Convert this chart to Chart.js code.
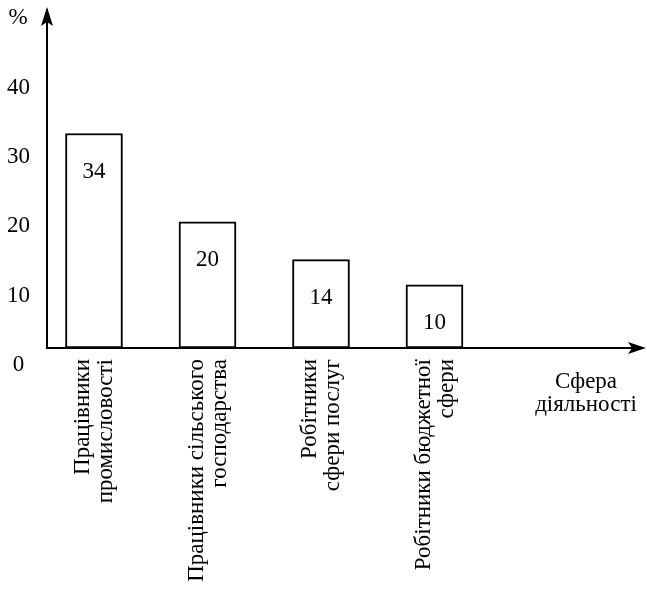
<!DOCTYPE html>
<html lang="uk">
<head>
<meta charset="utf-8">
<title>Розподіл за сферою діяльності</title>
<script src="https://cdn.jsdelivr.net/npm/chart.js@4/dist/chart.umd.min.js"></script>
<style>
  html, body { margin: 0; padding: 0; background: #ffffff; }
  #wrap { width: 647px; height: 596px; position: relative; }
</style>
</head>
<body>
<div id="wrap"><canvas id="chart" width="647" height="596"></canvas></div>
<script>
// Categories (each split into the lines shown under its bar)
const categoryLines = [
  ['Працівники', 'промисловості'],
  ['Працівники сільського', 'господарства'],
  ['Робітники', 'сфери послуг'],
  ['Робітники бюджетної', 'сфери']
];
// Share of each group, %
const shares = [34, 20, 14, 10];
// Values printed on the vertical axis
const yTickValues = [0, 10, 20, 30, 40];
const yUnit = '%';
const xTitleLines = ['Сфера', 'діяльності'];

const FONT = "'Liberation Serif', 'Times New Roman', serif";
const FONT_SIZE = 23;

// Arrowheads, axis captions and the numbers inside the bars
const decorations = {
  id: 'decorations',
  afterDraw(chart) {
    const ctx = chart.ctx;
    const area = chart.chartArea;
    const axisX = area.left;
    const axisY = area.bottom;
    ctx.save();
    ctx.fillStyle = '#000';
    ctx.strokeStyle = '#000';
    ctx.lineWidth = 2;

    // extend the horizontal axis up to its arrow tip
    const tipX = 646;
    ctx.beginPath();
    ctx.moveTo(area.right - 1, axisY);
    ctx.lineTo(tipX - 8, axisY);
    ctx.stroke();
    // horizontal arrowhead
    ctx.beginPath();
    ctx.moveTo(tipX, axisY);
    ctx.lineTo(tipX - 18, axisY - 6);
    ctx.lineTo(tipX - 14, axisY);
    ctx.lineTo(tipX - 18, axisY + 6);
    ctx.closePath();
    ctx.fill();

    // extend the vertical axis up to its arrow tip
    const tipY = 7;
    ctx.beginPath();
    ctx.moveTo(axisX, area.top + 1);
    ctx.lineTo(axisX, tipY + 8);
    ctx.stroke();
    // vertical arrowhead
    ctx.beginPath();
    ctx.moveTo(axisX, tipY);
    ctx.lineTo(axisX - 6, tipY + 19);
    ctx.lineTo(axisX, tipY + 15);
    ctx.lineTo(axisX + 6, tipY + 19);
    ctx.closePath();
    ctx.fill();

    ctx.font = FONT_SIZE + 'px ' + FONT;
    ctx.textAlign = 'center';
    ctx.textBaseline = 'middle';
    // unit above the vertical axis
    ctx.fillText(yUnit, 18, 18);
    // caption of the horizontal axis
    ctx.fillText(xTitleLines[0], 586, 382);
    ctx.fillText(xTitleLines[1], 586, 405);

    // values inside the bars
    const meta = chart.getDatasetMeta(0);
    meta.data.forEach((bar, i) => {
      ctx.fillText(String(shares[i]), bar.x, bar.y + 38);
    });
    ctx.restore();
  }
};

function zeroPadding(scale) {
  scale.paddingTop = 0;
  scale.paddingBottom = 0;
  scale.paddingLeft = 0;
  scale.paddingRight = 0;
}

function build() {
  new Chart(document.getElementById('chart'), {
    type: 'bar',
    data: {
      datasets: [{
        data: shares.map((v, i) => ({ x: i + 1, y: v })),
        yAxisID: 'yb',
        backgroundColor: '#ffffff',
        borderColor: '#000000',
        borderWidth: 2,
        borderSkipped: false,
        barThickness: 57
      }]
    },
    options: {
      responsive: false,
      animation: false,
      devicePixelRatio: 1,
      layout: { padding: { top: 10, right: 9, left: 0, bottom: 0 } },
      plugins: { legend: { display: false }, tooltip: { enabled: false } },
      scales: {
        x: {
          type: 'linear',
          position: 'bottom',
          offset: false,
          min: 0.586,
          max: 5.793,
          grid: { display: false, drawTicks: false, offset: false },
          border: { display: true, color: '#000', width: 2 },
          afterBuildTicks(scale) {
            scale.ticks = categoryLines.map((_, i) => ({ value: i + 1 }));
          },
          afterFit(scale) { scale.height = 248; zeroPadding(scale); },
          ticks: {
            autoSkip: false,
            minRotation: 90,
            maxRotation: 90,
            padding: 11,
            labelOffset: -11,
            color: '#000',
            font: { family: FONT, size: FONT_SIZE, lineHeight: 1.0 },
            callback(value) { return categoryLines[value - 1] || ''; }
          }
        },
        y: {
          type: 'linear',
          position: 'left',
          min: 0,
          max: 48.77,
          grid: { display: false, drawTicks: false },
          border: { display: true, color: '#000', width: 2 },
          afterBuildTicks(scale) {
            scale.ticks = yTickValues.map(v => ({ value: v }));
          },
          afterFit(scale) { scale.width = 47; zeroPadding(scale); },
          ticks: {
            padding: 17,
            crossAlign: 'center',
            labelOffset: 16.8,
            color: '#000',
            font: { family: FONT, size: FONT_SIZE }
          }
        },
        yb: {
          type: 'linear',
          display: false,
          min: 0,
          max: 53.57
        }
      }
    },
    plugins: [decorations]
  });
}

if (document.fonts && document.fonts.load) {
  Promise.all([
    document.fonts.load(FONT_SIZE + "px 'Liberation Serif'", 'Працівники 0123456789'),
    document.fonts.ready
  ]).then(build, build);
} else {
  build();
}
</script>
</body>
</html>
